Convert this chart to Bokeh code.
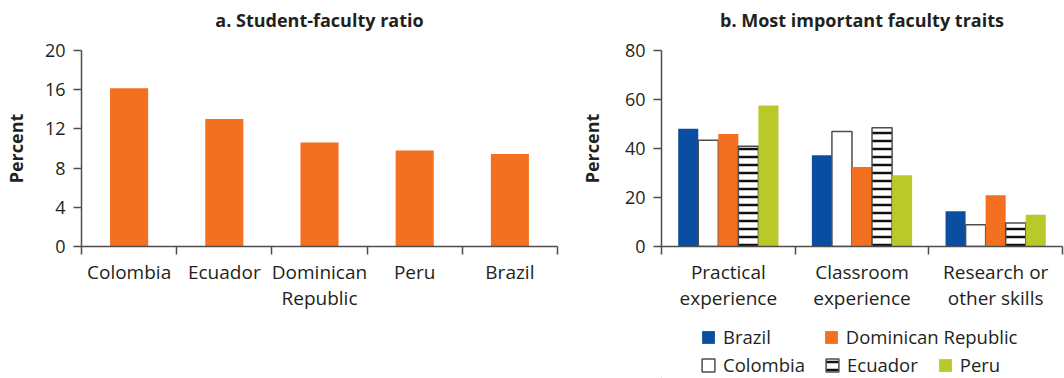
from bokeh.plotting import figure
from bokeh.models import (FactorRange, Range1d, LinearAxis, FixedTicker,
                          ColumnDataSource, Legend, LegendItem, Title)
from bokeh.transform import dodge
from bokeh.layouts import row, column
from bokeh.embed import file_html
from bokeh.resources import INLINE

FONT = "Open Sans"
TEXT = "#231f20"
AXIS = "#4d4d4d"
ORANGE = "#f37021"
BLUE = "#0a4ea1"
GREEN = "#b9c92a"

# ---------------- data: panel a ----------------
ratio_title = "a. Student-faculty ratio"
ratio_countries = ["Colombia", "Ecuador", "Dominican Republic", "Peru", "Brazil"]
ratio_labels = ["Colombia", "Ecuador", "Dominican\nRepublic", "Peru", "Brazil"]
ratio_values = [16.15, 13.0, 10.6, 9.8, 9.45]
ratio_ticks = [0, 4, 8, 12, 16, 20]

# ---------------- data: panel b ----------------
traits_title = "b. Most important faculty traits"
traits = ["Practical experience", "Classroom experience", "Research or other skills"]
trait_labels = ["Practical\nexperience", "Classroom\nexperience", "Research or\nother skills"]
brazil = [48.1, 37.2, 14.4]
colombia = [43.4, 46.9, 8.9]
dominican = [45.9, 32.4, 20.9]
ecuador = [40.9, 48.5, 9.6]
peru = [57.6, 29.1, 13.0]
trait_ticks = [0, 20, 40, 60, 80]
legend_row1 = ["Brazil", "Dominican Republic"]
legend_row2 = ["Colombia", "Ecuador", "Peru"]


def style_y(p, ticks, standoff):
    ax = p.yaxis[0]
    ax.ticker = FixedTicker(ticks=ticks)
    ax.axis_label = "Percent"
    ax.axis_label_text_font = FONT
    ax.axis_label_text_font_size = "18px"
    ax.axis_label_text_font_style = "bold"
    ax.axis_label_text_color = TEXT
    ax.axis_label_standoff = standoff
    ax.major_label_text_font = FONT
    ax.major_label_text_font_size = "18px"
    ax.major_label_text_color = TEXT
    ax.major_label_standoff = 8
    ax.major_tick_out = 8
    ax.major_tick_in = 0
    ax.major_tick_line_color = AXIS
    ax.major_tick_line_width = 1.5
    ax.minor_tick_line_color = None
    ax.axis_line_color = AXIS
    ax.axis_line_width = 1.5


def add_x_axis(p, labels):
    n = len(labels)
    centers = [i + 0.5 for i in range(n)]
    bounds = list(range(n + 1))
    ax = LinearAxis(ticker=FixedTicker(ticks=centers, minor_ticks=bounds))
    ax.major_label_overrides = {c: lab for c, lab in zip(centers, labels)}
    ax.major_tick_line_color = None
    ax.major_tick_out = 8
    ax.major_tick_in = 0
    ax.minor_tick_out = 8
    ax.minor_tick_in = 0
    ax.minor_tick_line_color = AXIS
    ax.minor_tick_line_width = 1.5
    ax.axis_line_color = AXIS
    ax.axis_line_width = 1.5
    ax.major_label_standoff = 4
    ax.major_label_text_font = FONT
    ax.major_label_text_font_size = "19px"
    ax.major_label_text_color = TEXT
    ax.major_label_text_line_height = 1.0
    p.add_layout(ax, "below")


def base_figure(width, height, x_range, y_range, title, left, right, bottom):
    p = figure(width=width, height=height, x_range=x_range, y_range=y_range,
               x_axis_type=None, output_backend="svg", toolbar_location=None,
               min_border_left=left, min_border_right=right,
               min_border_top=50, min_border_bottom=bottom)
    p.title.text = title
    p.title.align = "center"
    p.title.text_font = FONT
    p.title.text_font_size = "18px"
    p.title.text_font_style = "bold"
    p.title.text_color = TEXT
    p.title.standoff = 4
    # empty spacer between the title and the plot frame
    p.add_layout(Title(text=" ", text_font_size="1px", standoff=14), "above")
    p.outline_line_color = None
    p.grid.visible = False
    p.background_fill_color = "white"
    p.border_fill_color = "white"
    return p


# ---------------- panel a ----------------
p1 = base_figure(576, 378, FactorRange(*ratio_countries, range_padding=0, factor_padding=0),
                 Range1d(0, 20), ratio_title, 81, 19, 132)
p1.vbar(x=ratio_countries, top=ratio_values, width=0.4, fill_color=ORANGE, line_color=None)
style_y(p1, ratio_ticks, 14)
add_x_axis(p1, ratio_labels)

# ---------------- panel b ----------------
src = ColumnDataSource(dict(trait=traits, brazil=brazil, colombia=colombia,
                            dominican=dominican, ecuador=ecuador, peru=peru))
xr = FactorRange(*traits, range_padding=0, factor_padding=0)
p2 = base_figure(488, 318, xr, Range1d(0, 80), traits_title, 85, 2, 72)
bw = 0.15
series = [
    ("brazil", "Brazil", dict(fill_color=BLUE, line_color=None)),
    ("colombia", "Colombia", dict(fill_color="white", line_color=AXIS, line_width=1.5)),
    ("dominican", "Dominican Republic", dict(fill_color=ORANGE, line_color=None)),
    ("ecuador", "Ecuador", dict(fill_color="white", line_color=AXIS, line_width=1.5,
                                hatch_pattern="horizontal_line", hatch_color="#111111",
                                hatch_weight=2.5, hatch_scale=8)),
    ("peru", "Peru", dict(fill_color=GREEN, line_color=None)),
]
for j, (col, name, kw) in enumerate(series):
    p2.vbar(x=dodge("trait", (j - 2) * bw, range=xr), top=col, width=bw,
            source=src, **kw)
style_y(p2, trait_ticks, 18)
add_x_axis(p2, trait_labels)

# ---------------- legend strip under panel b ----------------
lf = figure(width=488, height=60, x_range=Range1d(0, 1), y_range=Range1d(0, 1),
            x_axis_type=None, y_axis_type=None, output_backend="svg",
            toolbar_location=None, min_border=0)
lf.outline_line_color = None
lf.grid.visible = False
keys = {}
for col, name, kw in series:
    # legend keys only: a zero-height bar placed outside the visible range
    keys[name] = lf.vbar(x=[-1], top=[0], width=0.1, **kw)


def make_legend(names, x, y, spacing):
    lg = Legend(items=[LegendItem(label=n, renderers=[keys[n]]) for n in names],
                location=(x, y), orientation="horizontal", spacing=spacing,
                padding=0, margin=0, border_line_color=None, background_fill_alpha=0,
                glyph_width=16, glyph_height=16, label_standoff=7,
                label_text_font=FONT, label_text_font_size="18.5px",
                label_text_color=TEXT)
    lf.add_layout(lg, "center")


make_legend(legend_row1, 39, 29, 52)
make_legend(legend_row2, 39, 1, 19)

layout = row(p1, column(p2, lf))
open("out.html", "w").write(file_html(layout, INLINE))
